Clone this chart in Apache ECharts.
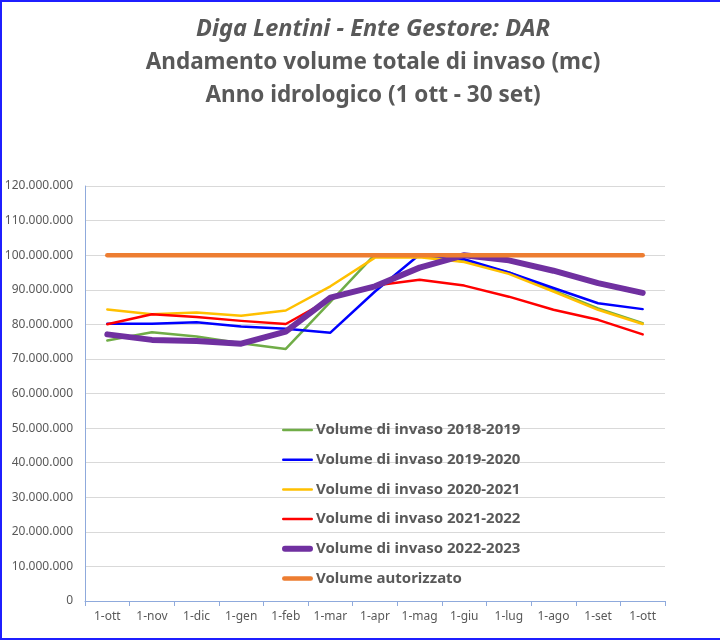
<!DOCTYPE html>
<html>
<head>
<meta charset="utf-8">
<script src="https://cdn.jsdelivr.net/npm/echarts@6/dist/echarts.min.js"></script>
<style>
html,body{margin:0;padding:0;background:#fff;}
#chart{width:720px;height:643px;}
</style>
</head>
<body>
<div id="chart"></div>
<script>
const categories = ['1-ott','1-nov','1-dic','1-gen','1-feb','1-mar','1-apr','1-mag','1-giu','1-lug','1-ago','1-set','1-ott'];
const seriesNames = ['Volume di invaso 2018-2019','Volume di invaso 2019-2020','Volume di invaso 2020-2021','Volume di invaso 2021-2022','Volume di invaso 2022-2023','Volume autorizzato'];
const v2018 = [75300000,77700000,76500000,74500000,72900000,86500000,100200000,99600000,98200000,95000000,89800000,84600000,80300000];
const v2019 = [80200000,80200000,80600000,79400000,78700000,77600000,89500000,100200000,98800000,95000000,90500000,86100000,84400000];
const v2020 = [84300000,82900000,83400000,82500000,84000000,91000000,99300000,99400000,98000000,94600000,89500000,84200000,80100000];
const v2021 = [80000000,82900000,82100000,81000000,80100000,87300000,91200000,92900000,91200000,88000000,84200000,81300000,77100000];
const v2022 = [77100000,75500000,75200000,74400000,77900000,87700000,91000000,96400000,100000000,98500000,95500000,91900000,89100000];
const vAut  = [100000000,100000000,100000000,100000000,100000000,100000000,100000000,100000000,100000000,100000000,100000000,100000000,100000000];
const yTicks = {min:0, max:120000000, interval:10000000};
const titleLines = ['Diga Lentini - Ente Gestore: DAR','Andamento volume totale di invaso (mc)','Anno idrologico (1 ott - 30 set)'];

const colors = ['#70AD47','#0000FF','#FFC000','#FF0000','#7030A0','#ED7D31'];
const widths = [2.5,2.5,2.5,2.5,6,4.5];
const dataSets = [v2018,v2019,v2020,v2021,v2022,vAut];
const FONT = 'Noto Sans';

function fmt(v){ return String(v).replace(/\B(?=(\d{3})+(?!\d))/g,'.'); }
function lineIcon(w){
  const r = w/2, L = 31 - w;
  return 'path://M' + r + ',0h' + L + 'a' + r + ',' + r + ' 0 0 1 0,' + w + 'h-' + L + 'a' + r + ',' + r + ' 0 0 1 0,-' + w + 'z';
}

const chart = echarts.init(document.getElementById('chart'), null, {renderer:'canvas'});
const titleSizes = [23.5, 22.5, 22.5];
const titleCenters = [33, 66, 99];
const option = {
  animation:false,
  backgroundColor:'#ffffff',
  graphic:[{
    type:'rect', silent:true, z:-10,
    shape:{x:1, y:1, width:740, height:638},
    style:{fill:'none', stroke:'#1F1FFF', lineWidth:2}
  }],
  title: titleLines.map((t,i)=>({
    text:t, left:373, top:titleCenters[i]-titleSizes[i]*0.66, textAlign:'center', padding:0,
    textStyle:{fontFamily:FONT, fontSize:titleSizes[i], fontWeight:'bold', fontStyle: i===0?'italic':'normal', color:'#595959'}
  })),
  legend:{
    orient:'vertical', left:277, top:417, itemWidth:31, itemHeight:16, itemGap:13.7,
    symbolKeepAspect:true,
    textStyle:{fontFamily:FONT, fontSize:15, fontWeight:'bold', color:'#595959', lineHeight:16, padding:[0,0,0,-2]},
    data: seriesNames.map((n,i)=>({name:n, icon:lineIcon(widths[i]), itemStyle:{color:colors[i]}}))
  },
  grid:{left:85, right:55, top:186, bottom:42, containLabel:false},
  xAxis:{
    type:'category', data:categories, boundaryGap:true,
    axisLine:{lineStyle:{color:'#8FAADC', width:1}},
    axisTick:{show:true, length:5, lineStyle:{color:'#8FAADC'}},
    axisLabel:{fontFamily:FONT, fontSize:12, color:'#595959', margin:10, interval:0},
    splitLine:{show:false}
  },
  yAxis:{
    type:'value', min:yTicks.min, max:yTicks.max, interval:yTicks.interval,
    axisLine:{show:true, lineStyle:{color:'#8FAADC', width:1}},
    axisTick:{show:false},
    axisLabel:{fontFamily:FONT, fontSize:12, color:'#595959', margin:12, formatter:fmt},
    splitLine:{lineStyle:{color:'#D9D9D9', width:1}}
  },
  series: dataSets.map((d,i)=>({
    name:seriesNames[i], type:'line', data:d, symbol:'none', showSymbol:false,
    lineStyle:{color:colors[i], width:widths[i], cap:'round', join:'round'},
    itemStyle:{color:colors[i]},
    z:2+i
  }))
};
chart.setOption(option);
</script>
</body>
</html>
